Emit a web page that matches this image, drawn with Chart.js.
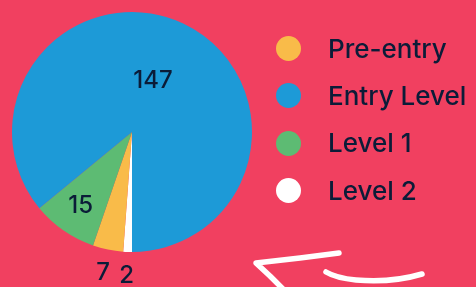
<!DOCTYPE html>
<html>
<head>
<meta charset="utf-8">
<script src="https://cdn.jsdelivr.net/npm/chart.js@4"></script>
<style>
  html, body { margin: 0; padding: 0; }
  body { width: 476px; height: 287px; background: #f14060; overflow: hidden; position: relative; font-family: Inter, "Noto Sans", sans-serif; }
  #wrap { position: absolute; left: 0; top: 0; width: 476px; height: 287px; }
  #legend { position: absolute; left: 276px; top: 25px; margin: 0; padding: 0; list-style: none; }
  #legend li { height: 47.3px; display: flex; align-items: center; color: #0b1c38; font-size: 26px; font-weight: 500; line-height: 1; }
  #legend .dot { width: 25px; height: 25px; border-radius: 50%; margin-right: 27px; flex: none; }
  #scribble { position: absolute; left: 0; top: 0; }
</style>
</head>
<body>
<div id="wrap"><canvas id="pieChart"></canvas></div>
<ul id="legend"></ul>
<svg id="scribble" width="476" height="287">
  <path d="M339 253 L300 258 L256 263 L270 276 L284 290" fill="none" stroke="#fff" stroke-width="5.5" stroke-linecap="round" stroke-linejoin="round"/>
  <path d="M326 272 Q336 278 356 280 Q392 283 422 274" fill="none" stroke="#fff" stroke-width="5.5" stroke-linecap="round"/>
</svg>
<script>
const labels = ['Pre-entry', 'Entry Level', 'Level 1', 'Level 2'];
const values = [7, 147, 15, 2];
const colors = ['#f9bb49', '#1d9ad7', '#5dbb73', '#ffffff'];
// order the slices are laid out clockwise, starting at 6 o'clock
const sliceOrder = [3, 0, 2, 1];

document.addEventListener('DOMContentLoaded', () => {

    const legend = document.getElementById('legend');
    labels.forEach((label, i) => {
        const li = document.createElement('li');
        li.innerHTML = '<span class="dot" style="background:' + colors[i] + '"></span>' + label;
        legend.appendChild(li);
    });

    const sliceLabels = {
        id: 'sliceLabels',
        afterDatasetsDraw(chart) {
            const ctx = chart.ctx;
            const meta = chart.getDatasetMeta(0);
            ctx.save();
            ctx.fillStyle = '#0b1c38';
            ctx.font = '500 24px Inter, "Noto Sans", sans-serif';
            ctx.textAlign = 'center';
            ctx.textBaseline = 'middle';
            meta.data.forEach((arc, i) => {
                const p = arc.getProps(['x', 'y', 'startAngle', 'endAngle', 'outerRadius'], true);
                const mid = (p.startAngle + p.endAngle) / 2;
                const span = p.endAngle - p.startAngle;
                let r;
                if (span < 0.35) r = p.outerRadius + 24;
                else if (span < 1) r = p.outerRadius * 0.75;
                else r = p.outerRadius * 0.47;
                ctx.fillText(chart.data.datasets[0].data[i], p.x + Math.cos(mid) * r - (span > 4 ? 3 : 0), p.y + Math.sin(mid) * r);
            });
            ctx.restore();
        }
    };

    const ctx = document.getElementById('pieChart').getContext('2d');
    new Chart(ctx, {
        type: 'pie',
        data: {
            labels: sliceOrder.map(i => labels[i]),
            datasets: [{
                data: sliceOrder.map(i => values[i]),
                backgroundColor: sliceOrder.map(i => colors[i]),
                borderWidth: 0
            }]
        },
        options: {
            responsive: true,
            maintainAspectRatio: false,
            animation: false,
            rotation: 180,
            layout: { padding: { left: 12, top: 12, right: 224, bottom: 35 } },
            plugins: {
                legend: { display: false },
                tooltip: { enabled: false }
            }
        },
        plugins: [sliceLabels]
    });
});
</script>
</body>
</html>
